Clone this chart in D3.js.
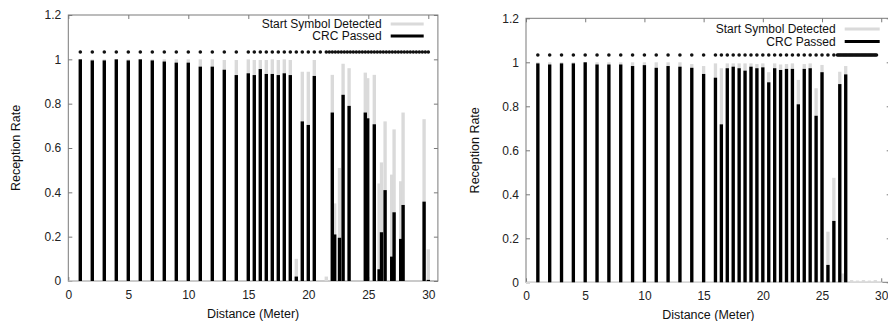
<!DOCTYPE html>
<html>
<head>
<meta charset="utf-8">
<script src="https://cdn.jsdelivr.net/npm/d3@7"></script>
<style>
  body { margin: 0; background: #fff; }
  svg { display: block; font-family: "Liberation Sans", Arial, sans-serif; }
</style>
</head>
<body>
<div id="chart"></div>
<script>
// ---- left experiment ----
const leftDist  = [1, 2, 3, 4, 5, 6, 7, 8, 9, 10, 11, 12, 13, 14,
  15, 15.5, 16, 16.5, 17, 17.5, 18, 18.5, 19, 19.5, 20, 20.5, 21.5,
  22, 22.2, 22.6, 22.9, 23.4, 24.75, 24.95, 25.5, 25.9, 26.1, 26.4,
  26.95, 27.15, 27.7, 27.9, 29.65, 30];
const leftStart = [1, 1, 1, 1, 1, 1, 1, 1, 1, 1, 1, 1, 0.997, 0.997,
  1, 0.997, 0.997, 0.997, 1, 0.997, 1, 0.997, 0.1, 0.944, 0.944, 0.997, 0.02,
  0.93, 0.35, 0.51, 0.98, 0.96, 0.94, 0.915, 0.93, 0.44, 0.535, 0.72,
  0.48, 0.684, 0.45, 0.76, 0.73, 0.143];
const leftCrc   = [1, 0.995, 0.995, 1, 0.995, 1, 0.995, 0.99, 0.985, 0.985, 0.967, 0.967, 0.953, 0.929,
  0.937, 0.929, 0.956, 0.934, 0.934, 0.929, 0.937, 0.929, 0.02, 0.72, 0.704, 0.925, 0,
  0.76, 0.21, 0.195, 0.84, 0.79, 0.76, 0.734, 0.707, 0.053, 0.22, 0.41,
  0.11, 0.31, 0.19, 0.343, 0.358, 0.005];
// measurement positions (dot row)
const leftDots = [1, 2, 3, 4, 5, 6, 7, 8, 9, 10, 11, 12, 13, 14,
  15, 15.5, 16, 16.5, 17, 17.5, 18, 18.5, 19, 19.5, 20, 20.5, 21, 21.5,
  21.75, 22, 22.25, 22.5, 22.75, 23, 23.25, 23.5, 23.75, 24, 24.25, 24.5,
  24.75, 25, 25.25, 25.5, 25.75, 26, 26.25, 26.5, 26.75, 27, 27.25, 27.5,
  27.75, 28, 28.25, 28.5, 28.75, 29, 29.25, 29.5, 29.75, 30];

// ---- right experiment ----
const rightDist  = [1, 2, 3, 4, 5, 6, 7, 8, 9, 10, 11, 12, 13, 14, 15,
  16, 16.5, 17, 17.5, 18, 18.5, 19, 19.5, 20, 20.5, 21, 21.5, 22, 22.5,
  23, 23.5, 24, 24.5, 25, 25.5, 26, 26.5, 26.75, 27, 27.5, 28, 28.5, 29, 29.5];
const rightStart = [1, 1, 1, 1, 1, 1, 1, 1, 1, 1, 1, 1, 1, 0.992, 0.983,
  0.995, 0.973, 0.995, 0.995, 0.995, 0.995, 0.995, 0.992, 0.995, 0.955, 0.995, 0.99, 0.992, 0.995,
  0.92, 0.992, 0.995, 0.882, 0.988, 0.23, 0.475, 0.957, 0.04, 0.983, 0.01, 0.008, 0.01, 0.008, 0.01];
const rightCrc   = [0.995, 0.99, 0.995, 0.995, 1, 0.99, 0.99, 0.99, 0.983, 0.987, 0.975, 0.983, 0.98, 0.975, 0.947,
  0.93, 0.718, 0.973, 0.98, 0.973, 0.962, 0.98, 0.973, 0.977, 0.909, 0.973, 0.965, 0.97, 0.97,
  0.809, 0.97, 0.973, 0.757, 0.955, 0.079, 0.279, 0.901, 0, 0.945, 0, 0, 0, 0, 0];
const rightDots = [1, 2, 3, 4, 5, 6, 7, 8, 9, 10, 11, 12, 13, 14, 15,
  16, 16.5, 17, 17.5, 18, 18.5, 19, 19.5, 20, 20.5, 21, 21.5, 22, 22.5,
  23, 23.5, 24, 24.5, 25, 25.5, 26,
  26.3, 26.4, 26.5, 26.6, 26.7, 26.8, 26.9, 27, 27.1, 27.2, 27.3, 27.4,
  27.5, 27.6, 27.7, 27.8, 27.9, 28, 28.1, 28.2, 28.3, 28.4, 28.5, 28.6,
  28.7, 28.8, 28.9, 29, 29.1, 29.2, 29.3, 29.4, 29.5, 29.6];

const dotLevel = 1.033;
const yTicks = [0, 0.2, 0.4, 0.6, 0.8, 1, 1.2];
const xTicks = [0, 5, 10, 15, 20, 25, 30];
const legendLabels = ["Start Symbol Detected", "CRC Passed"];

const svg = d3.select("#chart")
  .append("svg")
  .attr("width", 888)
  .attr("height", 321);

function panel(cfg) {
  const x = d3.scaleLinear().domain([0, 30.8]).range([cfg.left, cfg.right]);
  const y = d3.scaleLinear().domain([0, 1.2]).range([cfg.bottom, cfg.top]);
  const g = svg.append("g");
  const bw = x(0.28) - x(0);

  //ticks (inward on all four sides), drawn under the bars
  const tickStyle = sel => {
    sel.select(".domain").remove();
    sel.selectAll(".tick line").attr("stroke", "#7a7a7a");
    sel.selectAll("text").attr("fill", "#222").style("font-size", "12px");
  };
  g.append("g").attr("transform", `translate(${cfg.left},0)`)
    .call(d3.axisLeft(y).tickValues(yTicks).tickSizeInner(-4).tickSizeOuter(0).tickPadding(7)
      .tickFormat(d => String(+d.toFixed(1))))
    .call(tickStyle);
  g.append("g").attr("transform", `translate(${cfg.right},0)`)
    .call(d3.axisRight(y).tickValues(yTicks).tickSizeInner(-4).tickSizeOuter(0).tickFormat(""))
    .call(tickStyle);
  g.append("g").attr("transform", `translate(0,${cfg.bottom})`)
    .call(d3.axisBottom(x).tickValues(xTicks).tickSizeInner(-4).tickSizeOuter(0).tickPadding(9))
    .call(tickStyle);
  g.append("g").attr("transform", `translate(0,${cfg.top})`)
    .call(d3.axisTop(x).tickValues(xTicks).tickSizeInner(-4).tickSizeOuter(0).tickFormat(""))
    .call(tickStyle);

  //frame
  g.append("rect")
    .attr("x", cfg.left).attr("y", cfg.top)
    .attr("width", cfg.right - cfg.left).attr("height", cfg.bottom - cfg.top)
    .attr("fill", "none").attr("stroke", "#7a7a7a").attr("stroke-width", 1);
  g.append("line")
    .attr("x1", x(0)).attr("x2", x(30.1))
    .attr("y1", y(0)).attr("y2", y(0))
    .attr("stroke", "#d8d8d8").attr("stroke-width", 1.2);

  //start symbol bars (gray) behind crc bars (black)
  g.append("g").selectAll("rect")
    .data(cfg.dist)
    .join("rect")
    .attr("x", d => x(d) - bw / 2)
    .attr("width", bw)
    .attr("y", (d, i) => y(cfg.start[i]))
    .attr("height", (d, i) => y(0) - y(cfg.start[i]))
    .attr("fill", "#dadada");
  g.append("g").selectAll("rect")
    .data(cfg.dist)
    .join("rect")
    .attr("x", d => x(d) - bw / 2)
    .attr("width", bw)
    .attr("y", (d, i) => y(cfg.crc[i]))
    .attr("height", (d, i) => y(0) - y(cfg.crc[i]))
    .attr("fill", "#000");

  //measurement positions
  g.append("g").selectAll("circle")
    .data(cfg.dots)
    .join("circle")
    .attr("cx", d => x(d))
    .attr("cy", y(dotLevel))
    .attr("r", 1.8)
    .attr("fill", "#111");

  //legend
  const lg = g.append("g");
  legendLabels.forEach((t, i) => {
    const ly = cfg.legendY + i * cfg.legendStep;
    lg.append("text")
      .attr("x", cfg.legendX)
      .attr("y", ly)
      .attr("dy", "0.36em")
      .attr("text-anchor", "end")
      .style("font-size", "12px")
      .attr("fill", "#111")
      .text(t);
    lg.append("line")
      .attr("x1", cfg.legendX + 9).attr("x2", cfg.legendX + 9 + cfg.legendLen)
      .attr("y1", ly).attr("y2", ly)
      .attr("stroke", i === 0 ? "#dadada" : "#000")
      .attr("stroke-width", 3);
  });

  //axis titles
  g.append("text")
    .attr("transform", `translate(${cfg.ylabelX},${(cfg.top + cfg.bottom) / 2}) rotate(-90)`)
    .attr("text-anchor", "middle")
    .attr("dy", "0.36em")
    .style("font-size", "12.5px")
    .attr("fill", "#111")
    .text("Reception Rate");
  g.append("text")
    .attr("x", (cfg.left + cfg.right) / 2)
    .attr("y", cfg.bottom + 32)
    .attr("dy", "0.36em")
    .attr("text-anchor", "middle")
    .style("font-size", "12.5px")
    .attr("fill", "#111")
    .text("Distance (Meter)");
}

panel({
  dist: leftDist, start: leftStart, crc: leftCrc, dots: leftDots,
  left: 68.3, right: 437.9, top: 15, bottom: 281,
  legendX: 381.7, legendY: 24, legendStep: 12, legendLen: 33,
  ylabelX: 15.5
});

panel({
  dist: rightDist, start: rightStart, crc: rightCrc, dots: rightDots,
  left: 526, right: 890.7, top: 18.3, bottom: 282.3,
  legendX: 835.7, legendY: 29, legendStep: 12.5, legendLen: 35,
  ylabelX: 474.5
});
</script>
</body>
</html>
